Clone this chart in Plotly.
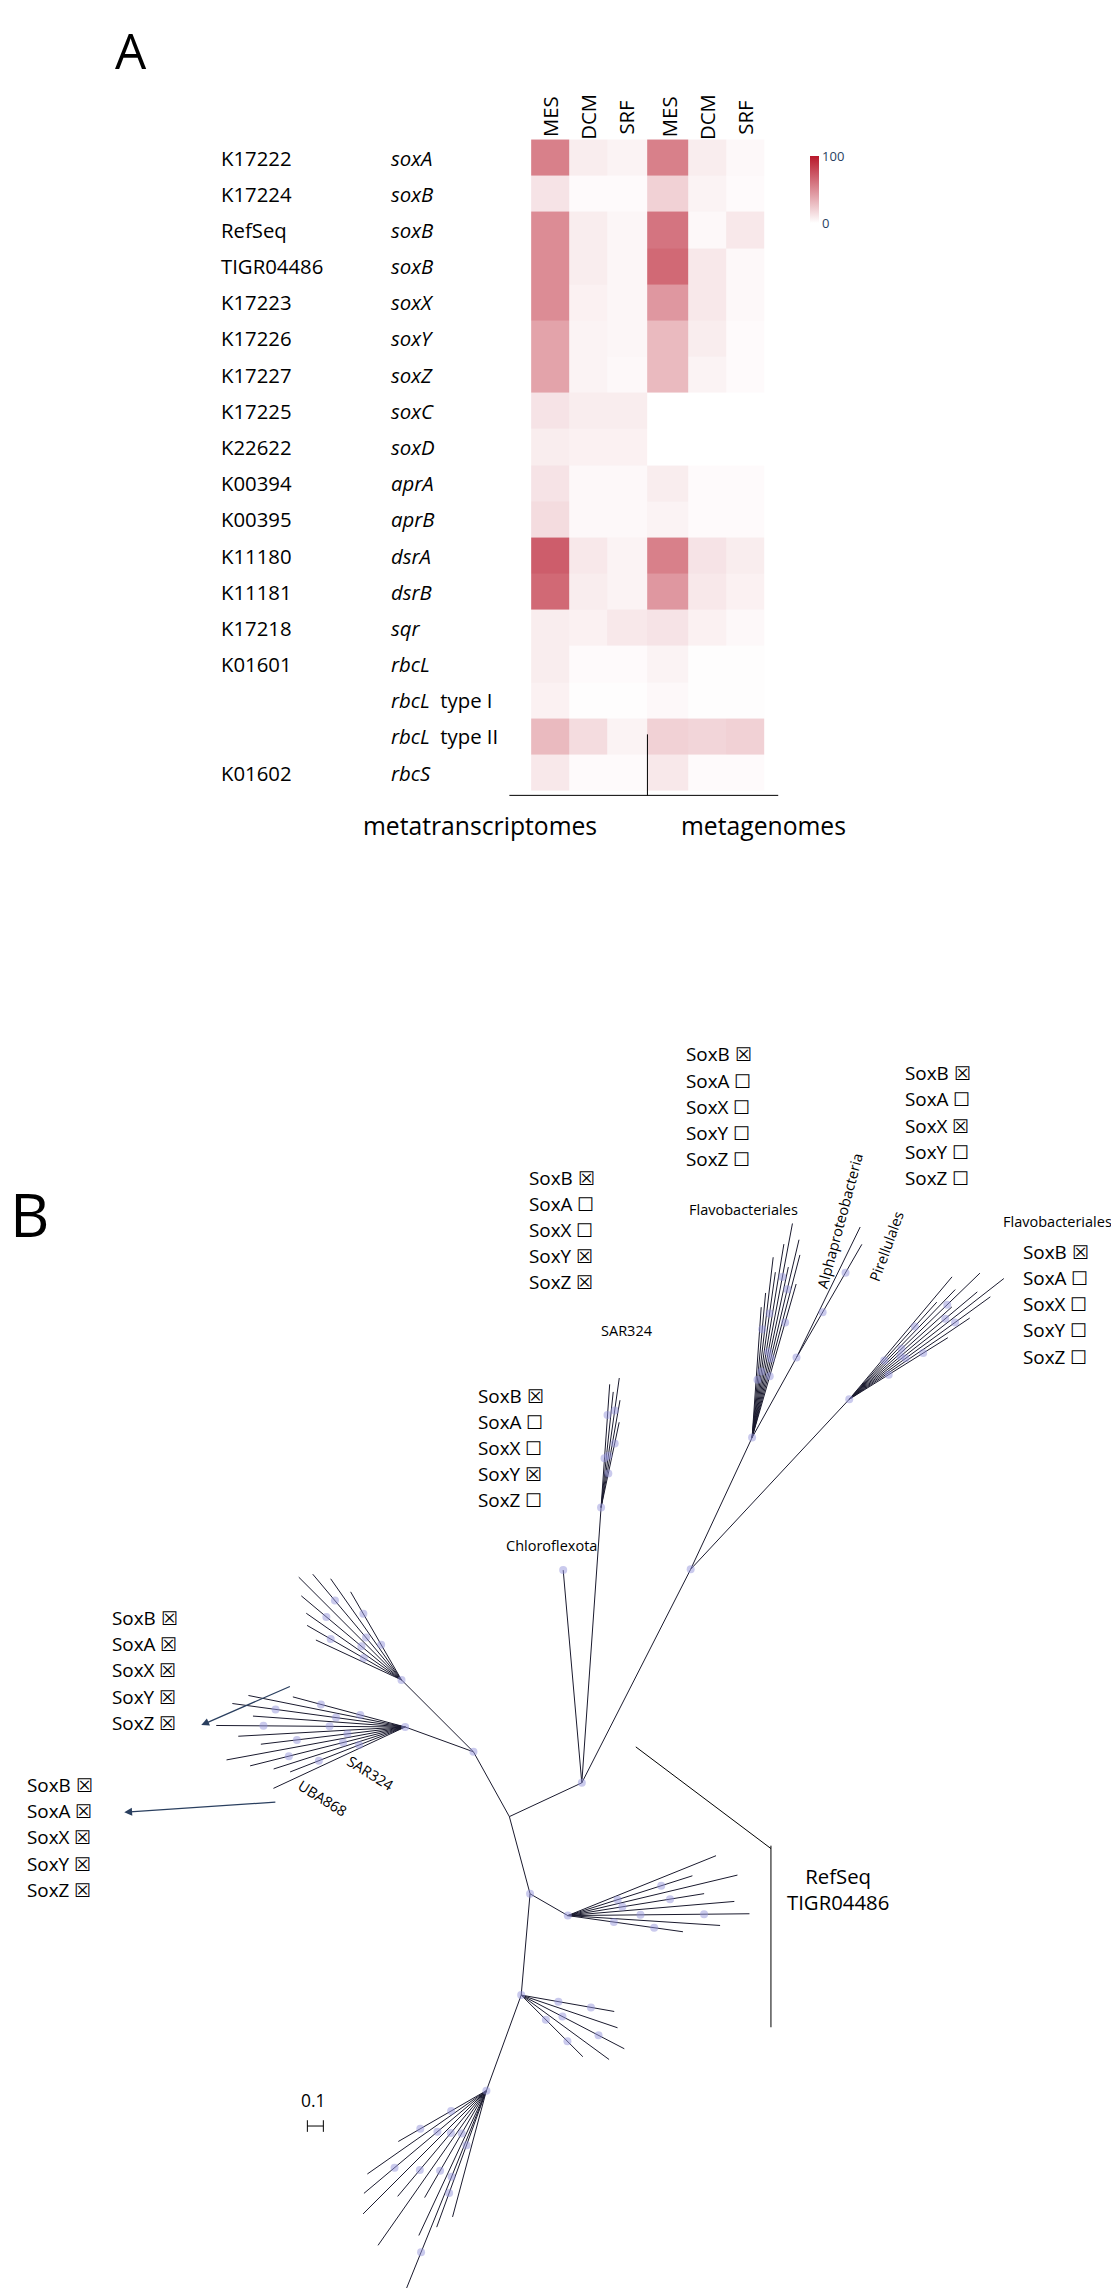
import math
import plotly.graph_objects as go

# ---- panel A data ----
gene_ids = ["K17222", "K17224", "RefSeq", "TIGR04486", "K17223", "K17226", "K17227", "K17225",
            "K22622", "K00394", "K00395", "K11180", "K11181", "K17218", "K01601", "", "", "K01602"]
gene_names = ["soxA", "soxB", "soxB", "soxB", "soxX", "soxY", "soxZ", "soxC", "soxD", "aprA",
              "aprB", "dsrA", "dsrB", "sqr", "rbcL", "rbcL", "rbcL", "rbcS"]
gene_suffix = ["", "", "", "", "", "", "", "", "", "", "", "", "", "", "", "  type I", "  type II", ""]
columns = ["MES", "DCM", "SRF", "MES", "DCM", "SRF"]
values = [
    [55, 8, 5, 55, 8, 3],
    [12, 2, 2, 20, 5, 2],
    [50, 8, 4, 60, 3, 10],
    [50, 8, 4, 65, 10, 3],
    [50, 6, 4, 45, 10, 3],
    [40, 5, 4, 30, 8, 2],
    [40, 5, 3, 30, 5, 2],
    [12, 8, 8, None, None, None],
    [8, 6, 6, None, None, None],
    [12, 3, 3, 8, 2, 2],
    [15, 3, 3, 5, 2, 2],
    [70, 10, 5, 55, 12, 8],
    [65, 8, 5, 45, 10, 6],
    [8, 6, 10, 12, 6, 3],
    [8, 2, 2, 5, 1, 1],
    [6, 1, 1, 3, 1, 1],
    [30, 15, 5, 20, 18, 20],
    [10, 2, 2, 10, 2, 2],
]

# ---- panel B tree data: node -> (parent, branch length, angle in degrees) ----
tree_nodes = {
    "a": ("R", 55, 25), "b": ("a", 165, 63), "c": ("b", 100, 65), "d": ("c", 63, 61),
    "e": ("b", 160, 47), "f": ("a", 190, 86), "g": ("a", 147, 95),
    "h": ("R", 51, 119), "i": ("h", 50, 160), "i2": ("h", 70, 135),
    "j": ("R", 55, -75), "k": ("j", 70, -95), "k2": ("k", 70, -110), "m": ("j", 30, -30),
}
# fans: node, first angle, last angle, leaf lengths
fans = [
    ("c", 74, 86, [110, 130, 140, 120, 150, 135, 115, 125, 100, 90]),
    ("d", 60, 64, [90, 100]),
    ("e", 32, 50, [80, 100, 120, 135, 115, 95, 125, 105, 90, 110]),
    ("f", 78, 86, [60, 75, 90, 80, 85]),
    ("i", 165, 205, [80, 110, 120, 105, 130, 115, 100, 125, 110, 95, 85, 100]),
    ("i2", 120, 155, [70, 85, 95, 100, 90, 80, 75, 65]),
    ("m", -8, 22, [80, 105, 125, 115, 95, 120, 90, 110]),
    ("k", -45, -10, [60, 75, 80, 70, 65]),
    ("k2", -150, -105, [70, 100, 110, 120, 95, 130, 85, 110, 100, 90]),
    ("k2", -112, -106, [160]),
]

sox_blocks = [
    (465, 710, "☒☐☐☐☐"), (616, 723, "☒☐☒☐☐"), (357, 795, "☒☐☐☒☒"),
    (322, 945, "☒☐☐☒☐"), (697, 846, "☒☐☐☐☐"), (70, 1098, "☒☒☒☒☒"), (12, 1213, "☒☒☒☒☒"),
]
sox_names = ["SoxB", "SoxA", "SoxX", "SoxY", "SoxZ"]

W, H = 770, 1575
S = 1119 / W
FONT = "Open Sans"

fig = go.Figure()

row_y = [103 + 24.9 * r for r in range(len(gene_names))]
col_x = [373, 399, 425, 455, 481, 507]
fig.add_trace(go.Heatmap(
    z=values, x=col_x, y=row_y, zmin=0, zmax=100,
    colorscale=[[0, "#ffffff"], [1, "#b8182b"]], hoverongaps=False,
    colorbar=dict(x=545 / W, xanchor="left", y=1 - 125 / H, len=60 / H, thickness=9,
                  tickvals=[0, 100], ticks="", outlinewidth=0,
                  tickfont=dict(size=13, family=FONT)),
))

ann = []
def txt(x, y, t, size=14, xa="left", ya="middle", angle=0):
    ann.append(dict(x=x, y=y, xref="x", yref="y", text=t, showarrow=False, xanchor=xa,
                    yanchor=ya, textangle=angle, font=dict(size=size * S, family=FONT, color="black")))

txt(72, 4, "A", 34, "left", "top")
txt(0, 830, "B", 42)
for r, y in enumerate(row_y):
    if gene_ids[r]:
        txt(145, y, gene_ids[r])
    txt(262, y, "<i>%s</i>%s" % (gene_names[r], gene_suffix[r]))
for c, x in enumerate(col_x):
    txt(x, 75, columns[c], 14, "center", "middle", -90)
txt(325, 563, "metatranscriptomes", 17, "center")
txt(520, 563, "metagenomes", 17, "center")

shapes = [
    dict(type="line", x0=345, x1=530, y0=542, y1=542, line=dict(color="black", width=1)),
    dict(type="line", x0=440, x1=440, y0=500, y1=542, line=dict(color="black", width=1)),
]

# tree geometry
pos = {"R": (345, 1245)}
for name, (par, length, ang) in tree_nodes.items():
    px, py = pos[par]
    pos[name] = (px + length * math.cos(math.radians(ang)), py - length * math.sin(math.radians(ang)))
lx, ly, dx_, dy_ = [], [], [], []
for name, (par, length, ang) in tree_nodes.items():
    lx += [pos[par][0], pos[name][0], None]
    ly += [pos[par][1], pos[name][1], None]
    dx_.append(pos[name][0]); dy_.append(pos[name][1])
for node, a0, a1, lens in fans:
    n = len(lens)
    px, py = pos[node]
    for i, L in enumerate(lens):
        ang = math.radians(a0 + (a1 - a0) * i / max(n - 1, 1))
        tx, ty = px + L * math.cos(ang), py - L * math.sin(ang)
        lx += [px, tx, None]; ly += [py, ty, None]
        if i % 2 == 0:
            for f in (0.4, 0.75):
                dx_.append(px + f * (tx - px)); dy_.append(py + f * (ty - py))
fig.add_trace(go.Scatter(x=lx, y=ly, mode="lines", line=dict(color="#1a1a2e", width=1), hoverinfo="skip"))
fig.add_trace(go.Scatter(x=dx_, y=dy_, mode="markers", marker=dict(color="rgba(150,150,220,0.5)", size=8),
                         hoverinfo="skip"))

for bx, by, marks in sox_blocks:
    for i, nm in enumerate(sox_names):
        txt(bx, by + 18 * i, "%s %s" % (nm, marks[i]), 13, "left", "top")
txt(467, 827, "Flavobacteriales", 10)
txt(683, 835, "Flavobacteriales", 10)
txt(407, 910, "SAR324", 10)
txt(341, 1058, "Chloroflexota", 10)
txt(572, 835, "Alphaproteobacteria", 10, "center", "middle", -75)
txt(604, 852, "Pirellulales", 10, "center", "middle", -70)
txt(250, 1215, "SAR324", 10, "center", "middle", 32)
txt(217, 1232, "UBA868", 10, "center", "middle", 32)
txt(535, 1295, "RefSeq<br>TIGR04486", 14)
txt(210, 1440, "0.1", 12, "center")
for (x0, y0, x1, y1) in [(195, 1155, 133, 1182), (185, 1235, 80, 1242)]:
    ann.append(dict(x=x1, y=y1, ax=x0, ay=y0, xref="x", yref="y", axref="x", ayref="y",
                    showarrow=True, arrowhead=2, arrowsize=1.2, arrowwidth=1.3, text=""))
shapes += [
    dict(type="line", x0=432, x1=525, y0=1197, y1=1267, line=dict(color="black", width=1)),
    dict(type="line", x0=525, x1=525, y0=1265, y1=1390, line=dict(color="black", width=1)),
    dict(type="line", x0=206, x1=217, y0=1458, y1=1458, line=dict(color="black", width=1)),
    dict(type="line", x0=206, x1=206, y0=1454, y1=1462, line=dict(color="black", width=1)),
    dict(type="line", x0=217, x1=217, y0=1454, y1=1462, line=dict(color="black", width=1)),
]

fig.update_layout(
    width=1119, height=2288, margin=dict(l=0, r=0, t=0, b=0), showlegend=False,
    plot_bgcolor="white", paper_bgcolor="white", annotations=ann, shapes=shapes,
    xaxis=dict(range=[0, W], visible=False, fixedrange=True),
    yaxis=dict(range=[H, 0], visible=False, fixedrange=True),
)
fig.write_html("out.html")
